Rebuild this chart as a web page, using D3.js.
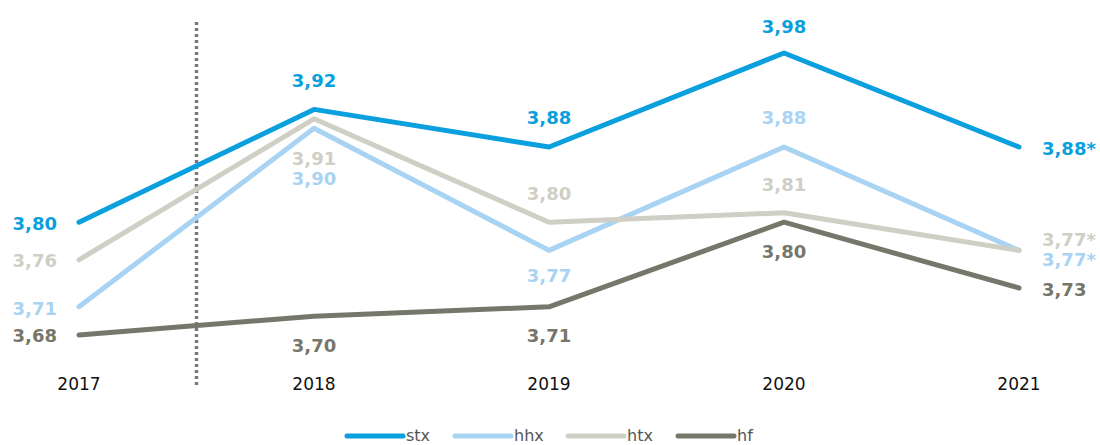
<!DOCTYPE html>
<html>
<head>
<meta charset="utf-8">
<script src="https://cdn.jsdelivr.net/npm/d3@7"></script>
<style>
  body { margin: 0; background: #fff; }
  text { font-family: Verdana, "DejaVu Sans", sans-serif; }
</style>
</head>
<body>
<div id="chart"></div>
<script>
const years = ["2017", "2018", "2019", "2020", "2021"];
const seriesNames = ["stx", "hhx", "htx", "hf"];
const stx = [3.80, 3.92, 3.88, 3.98, 3.88];
const hhx = [3.71, 3.90, 3.77, 3.88, 3.77];
const htx = [3.76, 3.91, 3.80, 3.81, 3.77];
const hf  = [3.68, 3.70, 3.71, 3.80, 3.73];
const starred = [false, false, false, false, true]; // 2021 is preliminary for stx/hhx/htx

const colors = { stx: "#0a9fdd", hhx: "#a9d3f3", htx: "#cfcfc5", hf: "#76766a" };

// label placement per series & year: [dx, dy, anchor]
const labelPos = {
  stx: [[-22, 8, "end"], [0, -22, "middle"], [0, -23, "middle"], [0, -20, "middle"], [23, 8, "start"]],
  hhx: [[-22, 8, "end"], [0, 57, "middle"], [0, 32, "middle"], [0, -23, "middle"], [23, 16, "start"]],
  htx: [[-22, 7, "end"], [0, 46, "middle"], [0, -22, "middle"], [0, -22, "middle"], [23, -4, "start"]],
  hf:  [[-22, 7, "end"], [0, 36, "middle"], [0, 35, "middle"], [0, 36, "middle"], [23, 8, "start"]]
};

const data = { stx, hhx, htx, hf };
const width = 1100, height = 445;

const svg = d3.select("#chart").append("svg")
  .attr("width", width)
  .attr("height", height);

const x = d3.scalePoint()
  .domain(years)
  .range([79, 1019]);

const y = d3.scaleLinear()
  .domain([3.68, 3.98])
  .range([335, 53]);

// dotted separator between 2017 and 2018
const sepX = (x("2017") + x("2018")) / 2;
svg.append("line")
  .attr("x1", sepX).attr("x2", sepX)
  .attr("y1", 22).attr("y2", 386)
  .attr("stroke", "#7a7a7a")
  .attr("stroke-width", 3.5)
  .attr("stroke-dasharray", "3,3");

// year labels
svg.append("g")
  .selectAll("text")
  .data(years)
  .join("text")
  .attr("x", d => x(d))
  .attr("y", 390)
  .attr("text-anchor", "middle")
  .style("font-size", "17px")
  .attr("fill", "#111")
  .text(d => d);

const line = d3.line()
  .x((d, i) => x(years[i]))
  .y(d => y(d));

const fmt = (v, i, name) => d3.format(".2f")(v).replace(".", ",") + (starred[i] && name !== "hf" ? "*" : "");

seriesNames.forEach(name => {
  svg.append("path")
    .datum(data[name])
    .attr("fill", "none")
    .attr("stroke", colors[name])
    .attr("stroke-width", 5)
    .attr("stroke-linecap", "round")
    .attr("stroke-linejoin", "round")
    .attr("d", line);
});

seriesNames.forEach(name => {
  svg.append("g")
    .selectAll("text")
    .data(data[name])
    .join("text")
    .attr("x", (d, i) => x(years[i]) + labelPos[name][i][0])
    .attr("y", (d, i) => y(d) + labelPos[name][i][1])
    .attr("text-anchor", (d, i) => labelPos[name][i][2])
    .attr("fill", colors[name])
    .style("font-size", "18px")
    .style("font-weight", "bold")
    .text((d, i) => fmt(d, i, name));
});

// legend
const legendX = [347, 455, 568, 678];
const legend = svg.append("g")
  .selectAll("g")
  .data(seriesNames)
  .join("g")
  .attr("transform", (d, i) => `translate(${legendX[i]}, 436)`);

legend.append("line")
  .attr("x1", 0).attr("x2", 56)
  .attr("stroke", d => colors[d])
  .attr("stroke-width", 5)
  .attr("stroke-linecap", "round");

legend.append("text")
  .attr("x", 59)
  .attr("y", 5)
  .attr("fill", "#555")
  .style("font-size", "16px")
  .text(d => d);
</script>
</body>
</html>
